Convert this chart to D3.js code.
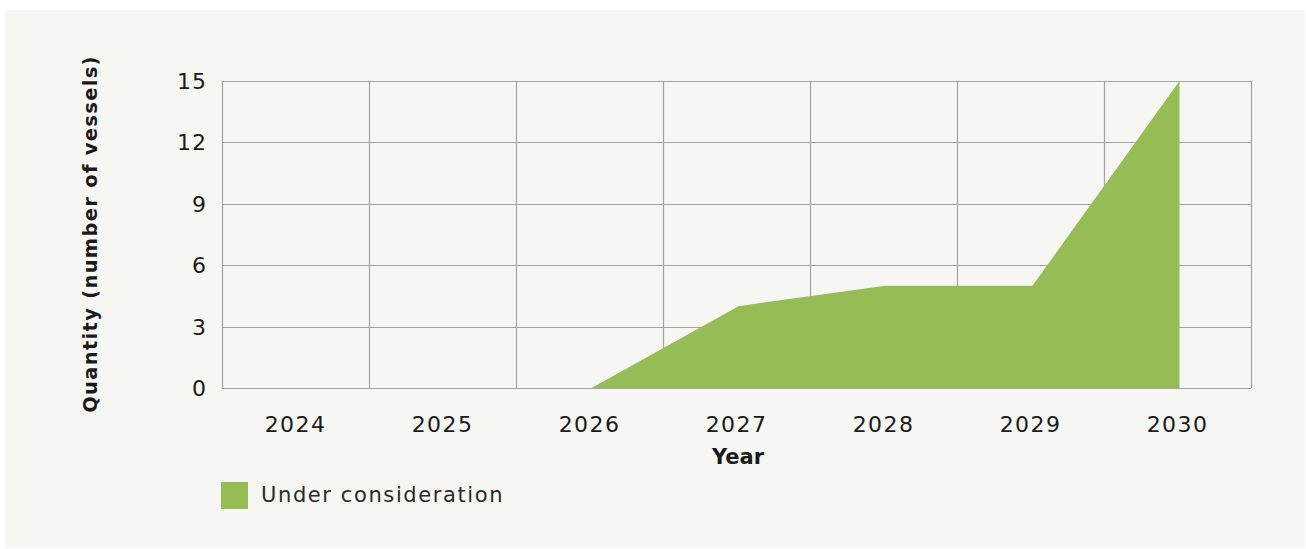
<!DOCTYPE html>
<html>
<head>
<meta charset="utf-8">
<script src="https://cdn.jsdelivr.net/npm/d3@7"></script>
<style>
  html, body { margin: 0; padding: 0; background: #ffffff; }
  svg { display: block; font-family: "DejaVu Sans", "Noto Sans", sans-serif; }
</style>
</head>
<body>
<svg id="chart" width="1306" height="549"></svg>
<script>
// Vessels under consideration, by year
const years = ["2024", "2025", "2026", "2027", "2028", "2029", "2030"];
const underConsideration = [0, 0, 0, 4, 5, 5, 15];
const yTicks = [0, 3, 6, 9, 12, 15];
const seriesName = "Under consideration";

const svg = d3.select("#chart");
const m = { left: 222, right: 1251, top: 81, bottom: 388 };

// panel background
svg.append("rect").attr("x", 5).attr("y", 10).attr("width", 1300).attr("height", 538)
  .attr("fill", "#f6f6f2");

const x = d3.scaleBand().domain(years).range([m.left, m.right]).paddingInner(0).paddingOuter(0);
const y = d3.scaleLinear().domain([0, 15]).range([m.bottom, m.top]);

const grid = svg.append("g");
// horizontal gridlines
grid.selectAll("line.h").data(yTicks).join("line")
  .attr("x1", m.left).attr("x2", m.right)
  .attr("y1", d => Math.round(y(d)) + 0.5).attr("y2", d => Math.round(y(d)) + 0.5)
  .attr("stroke", "#a3a3a3").attr("stroke-width", 1.2);
// vertical gridlines at band boundaries
const bounds = years.map(d => x(d)).concat([x(years[years.length - 1]) + x.bandwidth()]);
grid.selectAll("line.v").data(bounds).join("line")
  .attr("x1", d => Math.round(d) + 0.5).attr("x2", d => Math.round(d) + 0.5)
  .attr("y1", m.top).attr("y2", m.bottom)
  .attr("stroke", "#a3a3a3").attr("stroke-width", 1.2);

// area
const cx = d => x(d) + x.bandwidth() / 2;
const area = d3.area()
  .x((d, i) => cx(years[i]) + 2)
  .y0(y(0))
  .y1(d => y(d));
svg.append("path").datum(underConsideration)
  .attr("d", area).attr("fill", "#95bc55");

// redraw baseline over the fill
svg.append("line").attr("x1", m.left).attr("x2", m.right)
  .attr("y1", Math.round(y(0)) + 0.5).attr("y2", Math.round(y(0)) + 0.5)
  .attr("stroke", "#a3a3a3").attr("stroke-width", 1.2);

// y tick labels
svg.append("g").selectAll("text").data(yTicks).join("text")
  .attr("x", 207).attr("y", d => y(d) + 8)
  .attr("text-anchor", "end").attr("font-size", 22).attr("letter-spacing", 1).attr("fill", "#1a1a1a")
  .text(d => d);

// x tick labels
svg.append("g").selectAll("text").data(years).join("text")
  .attr("x", d => cx(d)).attr("y", 432)
  .attr("text-anchor", "middle").attr("font-size", 22).attr("letter-spacing", 1.4).attr("fill", "#1a1a1a")
  .text(d => d);

// axis titles
svg.append("text").attr("x", 738).attr("y", 464)
  .attr("text-anchor", "middle").attr("font-size", 21).attr("font-weight", 700).attr("fill", "#1a1a1a")
  .text("Year");
svg.append("text")
  .attr("transform", "translate(97,234) rotate(-90)")
  .attr("text-anchor", "middle").attr("font-size", 19.5).attr("font-weight", 700)
  .attr("letter-spacing", 1.3).attr("fill", "#1a1a1a")
  .text("Quantity (number of vessels)");

// legend
svg.append("rect").attr("x", 221).attr("y", 482).attr("width", 27).attr("height", 27).attr("fill", "#95bc55");
svg.append("text").attr("x", 261).attr("y", 502)
  .attr("font-size", 21).attr("letter-spacing", 1.6).attr("fill", "#2a2a2a").text(seriesName);
</script>
</body>
</html>
